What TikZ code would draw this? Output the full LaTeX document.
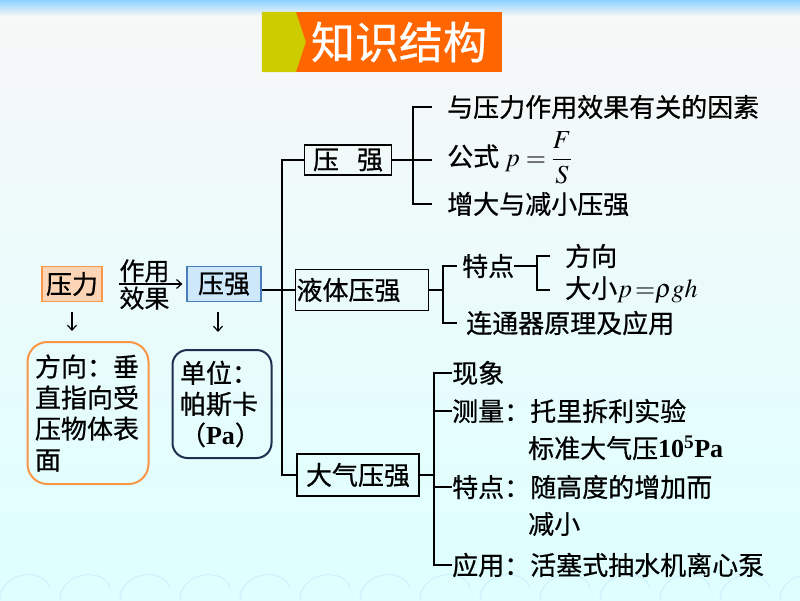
\documentclass[tikz,border=0pt]{standalone}
\usepackage{amsmath}
\usepackage{mathptmx}
\usepackage[no-math]{fontspec}
\setmainfont{Noto Sans CJK SC}[FakeBold=0.6]
\newfontfamily\tnr{Liberation Serif}
\usetikzlibrary{positioning,calc,arrows.meta,shapes}

\definecolor{forcefill}{HTML}{FBD5B5}
\definecolor{forceline}{HTML}{F79646}
\definecolor{pressfill}{HTML}{CDE8FA}
\definecolor{pressline}{HTML}{4A7EBB}
\definecolor{unitline}{HTML}{1F2F4F}
\definecolor{titleorange}{HTML}{FF6600}
\definecolor{titleyellow}{HTML}{CCCC00}

\begin{document}
\begin{tikzpicture}[x=1pt,y=-1pt,
    wire/.style={line width=1.6pt},
    box/.style={draw, line width=1.6pt, inner sep=0pt, font=\fontsize{26}{31}\selectfont},
    item/.style={anchor=west, inner sep=0pt, font=\fontsize{26}{31}\selectfont},
    tip/.style={line width=1.2pt, -{Straight Barb[length=5pt,width=9pt]}}]

    % Background
    \useasboundingbox (0,0) rectangle (800,600);
    \shade[top color=gray!6, bottom color=cyan!13] (0,0) rectangle (800,600);
    \shade[top color=blue!40!cyan!45, bottom color=gray!6] (0,0) rectangle (800,16);
    \foreach \x in {0,60,...,780}
        \draw[cyan!20, line width=1pt] (\x,600) .. controls (\x,572) and (\x+44,566) .. (\x+50,588);

    % Title
    \node[fill=titleorange, text=white, font=\fontsize{44}{44}\selectfont,
          minimum width=206, minimum height=60, inner sep=0pt] (title) at (399,42) {知识结构};
    \fill[titleyellow] ([xshift=-34pt]title.north west) -- (title.north west)
        -- ([xshift=10pt]title.west) -- (title.south west) -- ([xshift=-34pt]title.south west) -- cycle;

    % Force and pressure
    \node[box, line width=1.2pt, draw=forceline, fill=forcefill, minimum width=60, minimum height=35] (force) at (72,284) {压力};
    \node[box, line width=1.2pt, draw=pressline, fill=pressfill, minimum width=74, minimum height=35] (press) at (224,284) {压强};
    \draw[tip, shorten <=16pt, shorten >=4pt] (force) -- (press)
        node[midway, above=1pt, inner sep=0pt, font=\fontsize{25}{25}\selectfont] {作用}
        node[midway, below=2pt, inner sep=0pt, font=\fontsize{25}{25}\selectfont] {效果};

    \node[draw=forceline, line width=2pt, rounded corners=20pt, minimum width=121, minimum height=142,
          text width=106, align=left, inner sep=0pt, font=\fontsize{26}{31}\selectfont] (dir) at (88,413)
          {方向：垂\\直指向受\\压物体表\\面};
    \node[draw=unitline, line width=2pt, rounded corners=15pt, minimum width=99, minimum height=108,
          text width=84, align=left, inner sep=0pt, font=\fontsize{26}{31}\selectfont] (unit) at (222,404)
          {单位：\\帕斯卡\\（{\tnr\bfseries Pa}）};
    \draw[tip, shorten <=10pt, shorten >=10pt] (force.south) -- (force.south |- dir.north);
    \draw[tip, shorten <=10pt, shorten >=17pt] ([xshift=-6pt]press.south) -- ([xshift=-6pt]press.south |- unit.north);

    % Three branches
    \node[box, minimum width=87, minimum height=30] (pbox) at (348,160) {压\hspace{18pt}强};
    \node[box, minimum width=133, minimum height=41, text width=131, align=left, inner xsep=1pt] (liquid) at (362,290) {液体压强};
    \node[box, minimum width=122, minimum height=42] (air) at (358,475) {大气压强};

    \coordinate (s0) at (282,0);
    \draw[wire] (pbox.west) -- (s0 |- pbox.west) -- (s0 |- air.west) -- (air.west);
    \draw[wire] (press.east |- liquid.west) -- (liquid.west);

    % Pressure
    \node[item] (p1) at (447,107) {与压力作用效果有关的因素};
    \node[item] (p2) at (447,158) {公式 $p=\dfrac{F}{S}$};
    \node[item] (p3) at (447,204) {增大与减小压强};
    \coordinate (s1) at (413,0);
    \coordinate (e1) at (432,0);
    \draw[wire] (e1 |- p1.west) -- (s1 |- p1.west) -- (s1 |- p3.west) -- (e1 |- p3.west);
    \draw[wire] (pbox.east) -- (e1 |- pbox.east);

    % Liquid pressure
    \node[item] (l1) at (462,266) {特点};
    \node[item] (l2) at (466,323) {连通器原理及应用};
    \node[item] (l11) at (565,256) {方向};
    \node[item] (l12) at (565,290) {大小$p\,{=}\rho gh$};
    \coordinate (s2) at (443,0);
    \coordinate (e2) at (457,0);
    \draw[wire] (e2 |- l1.west) -- (s2 |- l1.west) -- (s2 |- l2.west) -- (e2 |- l2.west);
    \draw[wire] (liquid.east) -- (s2 |- liquid.east);
    \coordinate (s3) at (537,0);
    \coordinate (e3) at (550,0);
    \draw[wire] (l1.east) -- (s3 |- l1.east);
    \draw[wire] (e3 |- l11.west) -- (s3 |- l11.west) -- (s3 |- l12.west) -- (e3 |- l12.west);

    % Atmospheric pressure
    \node[item] (a1) at (452,373) {现象};
    \node[item] (a2) at (452,411) {测量：托里拆利实验};
    \node[item] (a3) at (528,448) {标准大气压{\tnr\bfseries 10\textsuperscript{5}Pa}};
    \node[item] (a4) at (452,487) {特点：随高度的增加而};
    \node[item] (a5) at (528,524) {减小};
    \node[item] (a6) at (452,565) {应用：活塞式抽水机离心泵};
    \coordinate (s4) at (434,0);
    \draw[wire] (a1.west) -- (s4 |- a1.west) -- (s4 |- a6.west) -- (a6.west);
    \foreach \n in {a2,a4}
        \draw[wire] (s4 |- \n.west) -- (\n.west);
    \draw[wire] (air.east) -- (s4 |- air.east);
\end{tikzpicture}
\end{document}
